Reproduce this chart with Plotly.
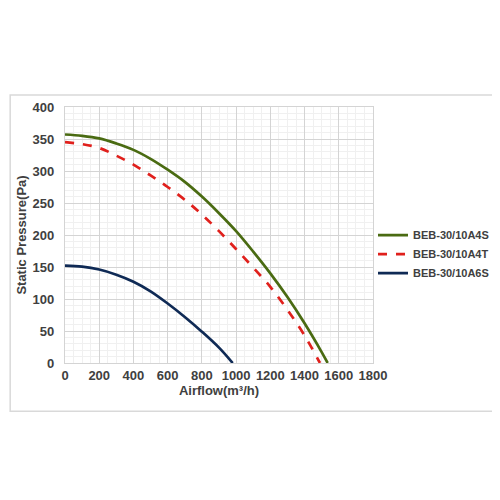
import plotly.graph_objects as go

airflow_a4s = [0, 100, 200, 300, 400, 500, 600, 700, 800, 900, 1000, 1100, 1200, 1300, 1400, 1500, 1535]
pressure_a4s = [357, 355, 351, 343, 333, 319, 302, 283, 260, 234, 206, 174, 140, 103, 62, 17, 0]

airflow_a4t = [0, 100, 200, 300, 400, 500, 600, 700, 800, 900, 1000, 1100, 1200, 1300, 1400, 1490]
pressure_a4t = [345, 342, 336, 324, 310, 293, 275, 255, 232, 206, 178, 149, 119, 83, 43, 0]

airflow_a6s = [0, 100, 200, 300, 400, 500, 600, 700, 800, 900, 980]
pressure_a6s = [152, 150.5, 146, 138, 127, 112, 93, 72, 49, 24, 0]

names = ["BEB-30/10A4S", "BEB-30/10A4T", "BEB-30/10A6S"]
colors = ["#4a6b12", "#e0201c", "#0f2a55"]

font_fam = "Liberation Sans, Arial, sans-serif"
txt = "#404040"

fig = go.Figure()
fig.add_trace(go.Scatter(x=airflow_a4s, y=pressure_a4s, name=names[0], mode="lines",
                         line=dict(color=colors[0], width=2.7, shape="spline", smoothing=1.0)))
fig.add_trace(go.Scatter(x=airflow_a4t, y=pressure_a4t, name=names[1], mode="lines",
                         line=dict(color=colors[1], width=2.7, dash="dash", shape="spline", smoothing=1.0)))
fig.add_trace(go.Scatter(x=airflow_a6s, y=pressure_a6s, name=names[2], mode="lines",
                         line=dict(color=colors[2], width=2.7, shape="spline", smoothing=1.0)))

# the page body has an 8px default margin, so the figure is drawn 8px smaller
fig.update_layout(
    width=492, height=492,
    margin=dict(l=57, r=127, t=99, b=137, autoexpand=False),
    paper_bgcolor="white", plot_bgcolor="white",
    font=dict(family=font_fam, color=txt, size=13),
    showlegend=True,
    legend=dict(x=1.0, y=0.425, xanchor="left", yanchor="middle",
                font=dict(family=font_fam, size=11, color=txt, weight="bold"),
                bgcolor="rgba(0,0,0,0)", tracegroupgap=0, itemwidth=30),
    shapes=[dict(type="rect", xref="paper", yref="paper",
                 x0=-0.178, x1=1.398, y0=-0.188, y1=1.047,
                 line=dict(color="#d9d9d9", width=1.5), layer="below")],
)

fig.update_xaxes(
    range=[0, 1800], dtick=200, tick0=0, automargin=False,
    showgrid=True, gridcolor="#d4d4d4", gridwidth=1,
    minor=dict(dtick=50, showgrid=True, gridcolor="#f0f0f0", gridwidth=1),
    showline=True, linecolor="#d4d4d4", zeroline=False,
    ticks="", tickfont=dict(family=font_fam, size=13, color=txt, weight="bold"),
    title=dict(text="Airflow(m³/h)", font=dict(family=font_fam, size=13, color=txt, weight="bold"), standoff=3),
    mirror=True,
)
fig.update_yaxes(
    range=[0, 400], dtick=50, tick0=0, automargin=False,
    showgrid=True, gridcolor="#d4d4d4", gridwidth=1,
    minor=dict(dtick=10, showgrid=True, gridcolor="#f0f0f0", gridwidth=1),
    showline=True, linecolor="#d4d4d4", zeroline=False,
    ticks="", ticksuffix="  ", tickfont=dict(family=font_fam, size=13, color=txt, weight="bold"),
    title=dict(text="Static Pressure(Pa)", font=dict(family=font_fam, size=13, color=txt, weight="bold"), standoff=2),
    mirror=True,
)

fig.write_html("out.html")
